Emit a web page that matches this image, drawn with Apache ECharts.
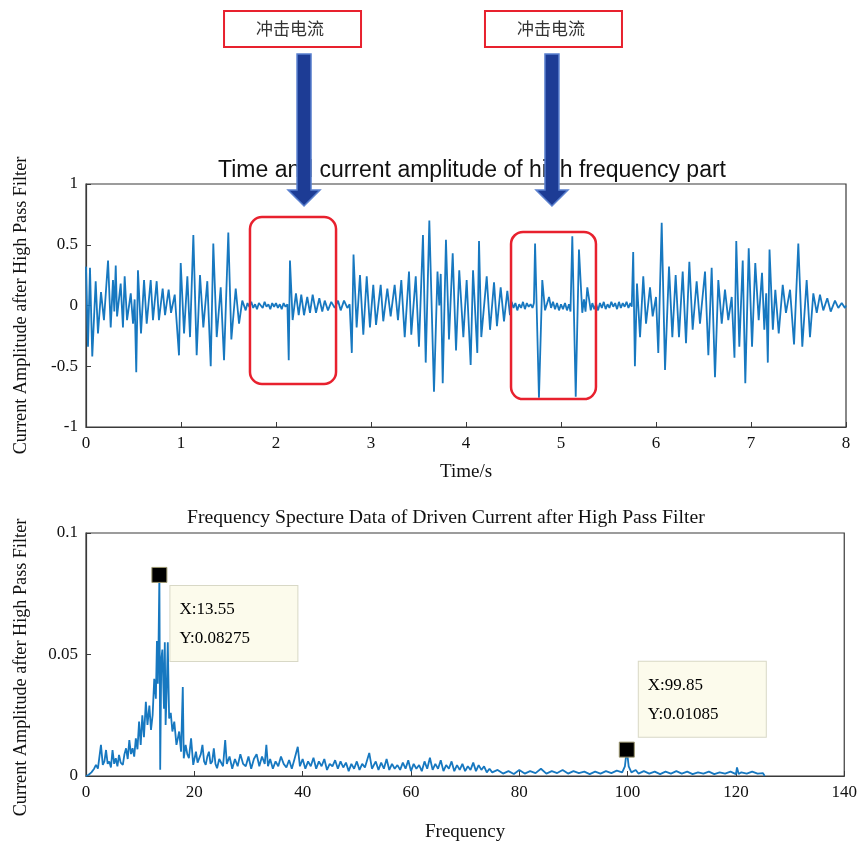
<!DOCTYPE html>
<html>
<head>
<meta charset="utf-8">
<script src="https://cdn.jsdelivr.net/npm/echarts@6/dist/echarts.min.js"></script>
<style>
  html, body { margin: 0; padding: 0; background: #fff; }
  #chart { width: 860px; height: 843px; }
</style>
</head>
<body>
<div id="chart"></div>
<script>
// time signal after the high pass filter, [t (s), amplitude]
const signal0to2 = [[0.000,0.32],[0.021,-0.34],[0.042,0.31],[0.066,-0.42],[0.102,0.20],[0.126,-0.23],[0.158,0.11],[0.189,-0.12],[0.232,0.37],[0.260,-0.18],[0.284,0.21],[0.298,-0.05],[0.313,0.33],[0.327,-0.09],[0.365,0.18],[0.389,-0.18],[0.407,0.24],[0.432,-0.12],[0.471,0.10],[0.495,-0.15],[0.512,0.05],[0.529,-0.55],[0.547,0.29],[0.579,-0.23],[0.611,0.21],[0.639,-0.15],[0.681,0.21],[0.705,-0.12],[0.744,0.20],[0.768,-0.12],[0.807,0.14],[0.832,-0.08],[0.870,0.13],[0.895,-0.06],[0.934,0.09],[0.979,-0.41],[0.997,0.35],[1.032,-0.23],[1.067,0.24],[1.095,-0.26],[1.130,0.58],[1.165,-0.41],[1.200,0.25],[1.235,-0.18],[1.277,0.20],[1.313,-0.50],[1.340,0.51],[1.376,-0.26],[1.418,0.15],[1.453,-0.45],[1.498,0.60],[1.530,-0.28],[1.576,0.14],[1.611,-0.15],[1.645,0.04],[1.681,-0.04],[1.70,0.02],[1.72,-0.01],[1.74,0.03],[1.76,-0.02],[1.78,0.01],[1.80,-0.03],[1.82,0.02],[1.84,0.00],[1.86,-0.02],[1.88,0.03],[1.90,-0.01],[1.92,0.01],[1.94,-0.03],[1.96,0.02],[1.98,-0.01]]
const signal2to4 = [[2.00,0.02],[2.02,-0.02],[2.04,0.01],[2.06,-0.03],[2.08,0.02],[2.10,-0.01],[2.12,0.01],[2.134,-0.45],[2.147,0.37],[2.175,-0.12],[2.210,0.10],[2.239,-0.08],[2.266,0.09],[2.295,-0.08],[2.329,0.07],[2.358,-0.06],[2.386,0.09],[2.421,-0.06],[2.456,0.06],[2.487,-0.05],[2.513,0.04],[2.547,-0.04],[2.582,0.03],[2.618,-0.02],[2.653,0.04],[2.681,-0.04],[2.716,0.04],[2.751,-0.02],[2.775,0.01],[2.798,-0.39],[2.816,0.42],[2.849,-0.18],[2.884,0.25],[2.919,-0.24],[2.955,0.24],[2.989,-0.18],[3.024,0.17],[3.053,-0.16],[3.102,0.17],[3.129,-0.13],[3.172,0.14],[3.207,-0.09],[3.249,0.17],[3.284,-0.12],[3.319,0.21],[3.355,-0.26],[3.400,0.28],[3.424,-0.24],[3.471,0.24],[3.505,-0.34],[3.547,0.58],[3.576,-0.47],[3.614,0.70],[3.663,-0.71],[3.700,0.28],[3.719,0.00],[3.734,0.26],[3.755,-0.64],[3.789,0.54],[3.821,-0.28],[3.860,0.43],[3.895,-0.37],[3.929,0.29],[3.972,-0.26]]
const signal4to6 = [[4.007,0.21],[4.049,-0.49],[4.074,0.29],[4.119,-0.39],[4.137,0.53],[4.161,-0.26],[4.218,0.24],[4.253,-0.20],[4.295,0.19],[4.326,-0.17],[4.365,0.15],[4.400,-0.13],[4.435,0.12],[4.463,-0.08],[4.48,0.03],[4.50,-0.02],[4.52,0.02],[4.54,-0.04],[4.56,0.01],[4.58,-0.02],[4.60,0.03],[4.62,-0.03],[4.64,0.02],[4.66,-0.01],[4.68,0.01],[4.70,-0.02],[4.715,0.02],[4.727,0.51],[4.768,-0.76],[4.803,0.21],[4.832,-0.04],[4.874,0.07],[4.895,-0.02],[4.916,0.03],[4.937,-0.03],[4.958,0.02],[4.979,-0.04],[5.000,0.01],[5.021,-0.03],[5.042,0.02],[5.063,-0.04],[5.084,0.01],[5.100,-0.05],[5.119,0.57],[5.155,-0.75],[5.189,0.46],[5.224,-0.06],[5.242,0.05],[5.258,-0.05],[5.277,0.15],[5.313,-0.04],[5.33,0.02],[5.35,-0.03],[5.37,0.01],[5.39,-0.04],[5.41,0.02],[5.43,-0.02],[5.45,0.03],[5.47,-0.03],[5.49,0.01],[5.51,-0.02],[5.53,0.03],[5.55,-0.01],[5.57,0.02],[5.59,-0.03],[5.61,0.03],[5.63,-0.02],[5.65,0.02],[5.67,-0.01],[5.69,0.03],[5.71,-0.02],[5.73,0.02],[5.745,-0.01],[5.760,0.44],[5.778,-0.50],[5.800,0.18],[5.832,-0.26],[5.866,0.24],[5.895,-0.15],[5.937,0.15],[5.965,-0.09]]
const signal6to8 = [[6.000,0.07],[6.024,-0.39],[6.060,0.68],[6.095,-0.53],[6.137,0.32],[6.172,-0.26],[6.207,0.25],[6.242,-0.26],[6.281,0.28],[6.316,-0.31],[6.351,0.36],[6.386,-0.20],[6.428,0.20],[6.463,-0.15],[6.516,0.28],[6.551,-0.41],[6.586,0.31],[6.621,-0.59],[6.656,0.21],[6.692,-0.15],[6.726,0.13],[6.761,-0.12],[6.797,0.07],[6.826,-0.43],[6.845,0.53],[6.877,-0.34],[6.913,0.37],[6.940,-0.64],[6.976,0.47],[7.011,-0.34],[7.045,0.35],[7.081,-0.12],[7.116,0.27],[7.140,-0.20],[7.160,0.10],[7.177,-0.47],[7.195,0.46],[7.230,-0.20],[7.256,0.13],[7.292,-0.23],[7.334,0.17],[7.368,-0.06],[7.411,0.13],[7.453,-0.32],[7.498,0.51],[7.540,-0.34],[7.586,0.21],[7.621,-0.26],[7.656,0.10],[7.692,-0.06],[7.726,0.09],[7.761,-0.04],[7.803,0.06],[7.839,-0.05],[7.884,0.04],[7.919,-0.02],[7.955,0.02],[7.989,-0.02],[8.000,0.00]]

// spectrum of the filtered current, [frequency (Hz), amplitude]
const specLow = [[0,0],[0.5,0.0005],[1.0,0.0015],[1.5,0.003],[1.84,0.0046],[2.2,0.003],[2.76,0.0128],[3.1,0.0046],[3.4,0.006],[3.7,0.0107],[4.0,0.005],[4.3,0.006],[4.6,0.0035],[4.9,0.0107],[5.2,0.005],[5.5,0.0073],[5.8,0.004],[6.1,0.0087],[6.4,0.0055],[6.8,0.0046],[7.1,0.009],[7.4,0.0114],[7.7,0.007],[8.0,0.0148],[8.3,0.009],[8.6,0.0114],[8.9,0.008],[9.2,0.0155],[9.5,0.011],[9.8,0.0224],[10.1,0.0128],[10.4,0.025],[10.7,0.016],[11.05,0.0305],[11.35,0.021],[11.7,0.029],[12.0,0.019],[12.3,0.025],[12.6,0.04],[12.9,0.0318],[13.1,0.0556],[13.25,0.038],[13.38,0.052],[13.55,0.08275],[13.7,0.0026],[13.9,0.048],[14.1,0.052],[14.4,0.0277],[14.55,0.055],[14.7,0.021],[14.9,0.035],[15.1,0.055],[15.35,0.0237],[15.65,0.026],[15.95,0.0183],[16.3,0.0224],[16.7,0.0128],[17.0,0.016],[17.2,0.0183],[17.55,0.01],[17.87,0.0366],[18.05,0.0073],[18.4,0.0128],[18.7,0.009],[19.0,0.0073],[19.4,0.0155],[19.8,0.0046],[20.3,0.01],[20.6,0.0055],[20.9,0.006],[21.2,0.009],[21.5,0.0128],[21.8,0.006],[22.1,0.0046],[22.4,0.008],[22.7,0.01],[23.0,0.005],[23.3,0.006],[23.6,0.0114],[23.9,0.005],[24.2,0.0032],[24.6,0.007],[24.9,0.0073]]
const specMid = [[25.3,0.004],[25.7,0.0148],[26.0,0.005],[26.5,0.008],[27.0,0.003],[27.5,0.007],[28.0,0.004],[28.5,0.009],[29.0,0.005],[29.5,0.004],[30.0,0.008],[30.5,0.003],[31.0,0.007],[31.5,0.009],[32.0,0.004],[32.5,0.008],[33.0,0.005],[33.3,0.0128],[33.6,0.004],[34.0,0.007],[34.5,0.003],[35.0,0.006],[35.5,0.004],[36.0,0.008],[36.5,0.005],[37.0,0.0035],[37.5,0.0066],[38.0,0.003],[38.5,0.007],[39.1,0.012],[39.5,0.004],[40.0,0.007],[40.5,0.003],[41.0,0.006],[41.5,0.004],[42.0,0.0075],[42.5,0.003],[43.0,0.006],[43.5,0.004],[44.0,0.007],[44.5,0.0025],[45.0,0.005],[45.5,0.004],[46.0,0.0065],[46.5,0.003],[47.0,0.006],[47.5,0.0035],[48.0,0.0055],[48.5,0.002],[49.0,0.005],[49.5,0.003],[50.0,0.006],[50.5,0.0025],[51.0,0.005],[51.5,0.0035],[52.3,0.0095],[52.8,0.003],[53.5,0.006],[54.0,0.0025],[54.5,0.0055],[55.0,0.003],[55.5,0.007],[56.0,0.0025],[56.5,0.005],[57.0,0.003],[57.5,0.0045],[58.0,0.0025],[58.5,0.0055],[59.0,0.003],[59.5,0.0065],[60.0,0.002],[60.5,0.005],[61.0,0.003],[61.5,0.0045],[62.0,0.002],[62.5,0.006],[63.0,0.003],[63.5,0.0075],[64.0,0.0025],[64.5,0.005],[65.0,0.003],[65.5,0.0065],[66.0,0.002],[66.5,0.0045],[67.0,0.003],[67.5,0.006],[68.0,0.002],[68.5,0.0045],[69.0,0.0025],[69.5,0.005],[70.0,0.002],[70.5,0.004],[71.0,0.0025],[71.5,0.0055],[72.0,0.002],[72.5,0.0045],[73.0,0.0025],[73.5,0.004],[74.0,0.0015],[74.5,0.003],[75.0,0.0015]]
const specHigh = [[76,0.0025],[77,0.001],[78,0.002],[79,0.0008],[80,0.0025],[81,0.001],[82,0.002],[83,0.0012],[84,0.003],[85,0.001],[86,0.002],[87,0.0012],[88,0.0025],[89,0.001],[90,0.002],[91,0.0012],[92,0.0018],[93,0.0008],[94,0.0018],[95,0.001],[96,0.002],[97,0.0012],[98,0.0022],[99,0.0015],[99.5,0.004],[99.85,0.01085],[100.2,0.004],[100.7,0.0015],[101.5,0.0025],[102,0.001],[103,0.002],[104,0.001],[105,0.0018],[106,0.0008],[107,0.0018],[108,0.001],[109,0.002],[110,0.001],[111,0.0018],[112,0.0008],[113,0.0015],[114,0.001],[115,0.0018],[116,0.0008],[117,0.0015],[118,0.001],[119,0.0018],[120,0.0008],[120.2,0.0035],[120.5,0.0008],[121,0.0015],[122,0.001],[123,0.0018],[124,0.001],[125,0.0012],[125.3,0]]

// data tips on the spectrum
const tipFreq = [13.55, 99.85]
const tipAmp = [0.08275, 0.01085]
const tipOffset = [[19, 19], [20, -80]]

// annotations: inrush current windows [tStart, tEnd, vTop, vBottom], arrow times, label box shift
const inrushLabel = '冲击电流'
const inrushBoxes = [[1.726, 2.632, 0.728, -0.646], [4.474, 5.368, 0.605, -0.770]]
const arrowTimes = [2.295, 4.905]
const labelShift = [-80, -67]

const serif = 'Liberation Serif, Times New Roman, serif'
const blue = '#1778c0'
const axisColor = '#3a3a3a'

const chart = echarts.init(document.getElementById('chart'))

function axisBase() {
  return {
    axisLine: { show: true, onZero: false, lineStyle: { color: axisColor, width: 1.2 } },
    axisTick: { show: true, inside: true, length: 5, lineStyle: { color: axisColor } },
    splitLine: { show: false },
    axisLabel: { color: '#111', fontFamily: serif, fontSize: 17, margin: 8 },
    nameTextStyle: { color: '#111', fontFamily: serif, fontSize: 19 }
  }
}

const yName = 'Current Amplitude after High Pass Filter'
const yNameStyle = (shift) => ({ color: '#111', fontFamily: serif, fontSize: 18.2, padding: [0, shift, 0, 0] })

chart.setOption({
  animation: false,
  title: [
    {
      text: 'Time and current amplitude of high frequency part',
      left: 213, top: 154,
      textStyle: { fontFamily: 'Liberation Sans, Arial, sans-serif', fontWeight: 'normal', fontSize: 23, color: '#111' }
    },
    {
      text: 'Frequency Specture Data of Driven Current after High Pass Filter',
      left: 182, top: 503,
      textStyle: { fontFamily: serif, fontWeight: 'normal', fontSize: 19.7, color: '#111' }
    }
  ],
  grid: [
    { left: 86, top: 184, width: 760, height: 243, show: true, borderColor: axisColor, borderWidth: 1.2, backgroundColor: 'transparent' },
    { left: 86, top: 533, width: 760, height: 245, show: true, borderColor: axisColor, borderWidth: 1.2, backgroundColor: 'transparent' }
  ],
  xAxis: [
    Object.assign(axisBase(), { gridIndex: 0, type: 'value', min: 0, max: 8, interval: 1, name: 'Time/s', nameLocation: 'middle', nameGap: 36 }),
    Object.assign(axisBase(), { gridIndex: 1, type: 'value', min: 0, max: 140, interval: 20, name: 'Frequency', nameLocation: 'middle', nameGap: 47 })
  ],
  yAxis: [
    Object.assign(axisBase(), { gridIndex: 0, type: 'value', min: -1, max: 1, interval: 0.5, name: yName, nameLocation: 'middle', nameGap: 56, nameRotate: 90, nameTextStyle: yNameStyle(0) }),
    Object.assign(axisBase(), { gridIndex: 1, type: 'value', min: 0, max: 0.1, interval: 0.05, name: yName, nameLocation: 'middle', nameGap: 56, nameRotate: 90, nameTextStyle: yNameStyle(26) })
  ],
  series: [
    {
      type: 'line', xAxisIndex: 0, yAxisIndex: 0,
      data: [].concat(signal0to2, signal2to4, signal4to6, signal6to8),
      showSymbol: false, sampling: null,
      lineStyle: { color: blue, width: 1.8 }
    },
    {
      type: 'line', xAxisIndex: 1, yAxisIndex: 1,
      data: [].concat(specLow, specMid, specHigh),
      showSymbol: false,
      lineStyle: { color: blue, width: 1.8 }
    },
    {
      type: 'scatter', xAxisIndex: 1, yAxisIndex: 1, z: 5,
      symbol: 'rect', symbolSize: 15,
      itemStyle: { color: '#000', opacity: 1, borderColor: '#9c9770', borderWidth: 1 },
      data: tipFreq.map((f, i) => ({
        value: [f, tipAmp[i]],
        label: { position: tipOffset[i] }
      })),
      label: {
        show: true,
        formatter: p => 'X:' + p.value[0] + '\nY:' + p.value[1],
        fontFamily: serif, fontSize: 17, color: '#000',
        lineHeight: 29,
        backgroundColor: '#fcfbec',
        borderColor: '#d8d8c6', borderWidth: 1,
        padding: [9, 9, 9, 9],
        width: 109, height: 57
      }
    }
  ]
})

// annotations drawn from data coordinates
function drawAnnotations() {
  const g = []
  inrushBoxes.forEach(b => {
    const p1 = chart.convertToPixel({ gridIndex: 0 }, [b[0], b[2]])
    const p2 = chart.convertToPixel({ gridIndex: 0 }, [b[1], b[3]])
    g.push({
      type: 'rect', z: 100,
      shape: { x: p1[0], y: p1[1], width: p2[0] - p1[0], height: p2[1] - p1[1], r: 12 },
      style: { fill: 'none', stroke: '#e8212e', lineWidth: 2.5 }
    })
  })
  arrowTimes.forEach((t, i) => {
    const cx = chart.convertToPixel({ gridIndex: 0 }, [t, 0])[0]
    const bx = cx + labelShift[i]
    // label box above the plot
    g.push({
      type: 'rect', z: 100,
      shape: { x: bx, y: 11, width: 137, height: 36 },
      style: { fill: '#fff', stroke: '#e8212e', lineWidth: 2 }
    })
    g.push({
      type: 'text', z: 101,
      style: {
        x: bx + 66, y: 29, text: inrushLabel, align: 'center', verticalAlign: 'middle',
        font: '17px "Noto Sans CJK SC"', fill: '#333'
      }
    })
    // arrow pointing into the plot
    g.push({
      type: 'polygon', z: 100,
      shape: {
        points: [
          [cx - 7, 54], [cx + 7, 54], [cx + 7, 190], [cx + 16, 190],
          [cx, 206], [cx - 16, 190], [cx - 7, 190]
        ]
      },
      style: { fill: '#1d3c95', stroke: '#5a80cf', lineWidth: 1.5 }
    })
  })
  chart.setOption({ graphic: g })
}
drawAnnotations()
</script>
</body>
</html>
